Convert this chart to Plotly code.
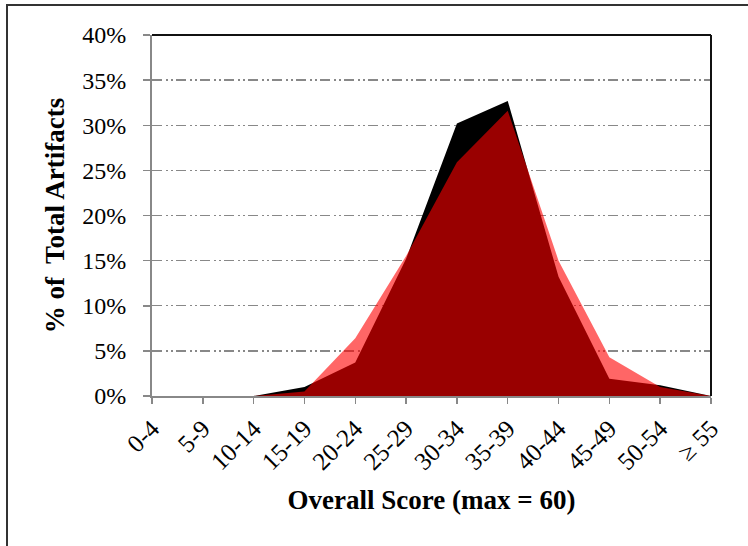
import plotly.graph_objects as go

categories = ["0-4", "5-9", "10-14", "15-19", "20-24", "25-29", "30-34",
              "35-39", "40-44", "45-49", "50-54", "\u2265 55"]
series_black = [0, 0, 0, 1.0, 3.7, 15.2, 30.2, 32.7, 13.2, 1.9, 1.2, 0]
series_red = [0, 0, 0, 0.5, 6.4, 15.5, 25.9, 31.6, 15.0, 4.3, 1.0, 0]
y_ticks = [0, 5, 10, 15, 20, 25, 30, 35, 40]

W, H = 748, 546
L, R, T, B = 152, 37, 35, 150
pw, ph = W - L - R, H - T - B

xs = list(range(len(categories)))

fig = go.Figure()
fig.add_trace(go.Scatter(x=xs, y=series_black, mode="none", fill="tozeroy",
                         fillcolor="#000000", hoverinfo="skip"))
fig.add_trace(go.Scatter(x=xs, y=series_red, mode="none", fill="tozeroy",
                         fillcolor="rgba(255,0,0,0.6)", hoverinfo="skip"))

font_serif = "Liberation Serif, Times New Roman, serif"

fig.update_layout(
    width=W, height=H,
    margin=dict(l=L, r=R, t=T, b=B, autoexpand=False),
    paper_bgcolor="white", plot_bgcolor="white",
    showlegend=False,
    font=dict(family=font_serif, size=22, color="black"),
)
fig.update_xaxes(
    automargin=False,
    range=[0, len(categories) - 1],
    tickmode="array", tickvals=xs, ticktext=categories,
    tickangle=-45, ticks="outside", ticklen=6, tickcolor="#888888", tickwidth=1.5,
    showgrid=False, zeroline=False,
    showline=True, linecolor="#888888", linewidth=2,
    tickfont=dict(family=font_serif, size=25),
    title=dict(text="<b>Overall Score (max = 60)</b>",
               font=dict(family=font_serif, size=27), standoff=16),
)
fig.update_yaxes(
    automargin=False,
    range=[0, 40],
    tickmode="array", tickvals=y_ticks, ticktext=[f"{v}%" for v in y_ticks],
    ticks="outside", ticklen=7, tickcolor="#888888", tickwidth=1.5,
    ticklabelstandoff=12,
    showgrid=True, gridcolor="#888888", gridwidth=1.3,
    griddash="10px,4px,2px,3px,2px,3px",
    zeroline=False,
    showline=True, linecolor="#888888", linewidth=2,
    tickfont=dict(family=font_serif, size=24),
    title=dict(text="<b>% of  Total Artifacts</b>",
               font=dict(family=font_serif, size=27), standoff=10),
)

# plot-area frame (top/right black)
fig.add_shape(type="line", xref="paper", yref="paper", x0=0, x1=1, y0=1, y1=1,
              line=dict(color="#111111", width=2))
fig.add_shape(type="line", xref="paper", yref="paper", x0=1, x1=1, y0=0, y1=1,
              line=dict(color="#111111", width=2))
# outer chart border (top and left visible)
ox = (7 - L) / pw
oy = (H - B - 5) / ph
fig.add_shape(type="rect", xref="paper", yref="paper", x0=ox, x1=2, y0=-1, y1=oy,
              line=dict(color="#333333", width=2), layer="above")

fig.write_html("out.html",
               config={"displayModeBar": False, "staticPlot": True},
               post_script="document.body.style.margin='0';document.body.style.overflow='hidden';")
